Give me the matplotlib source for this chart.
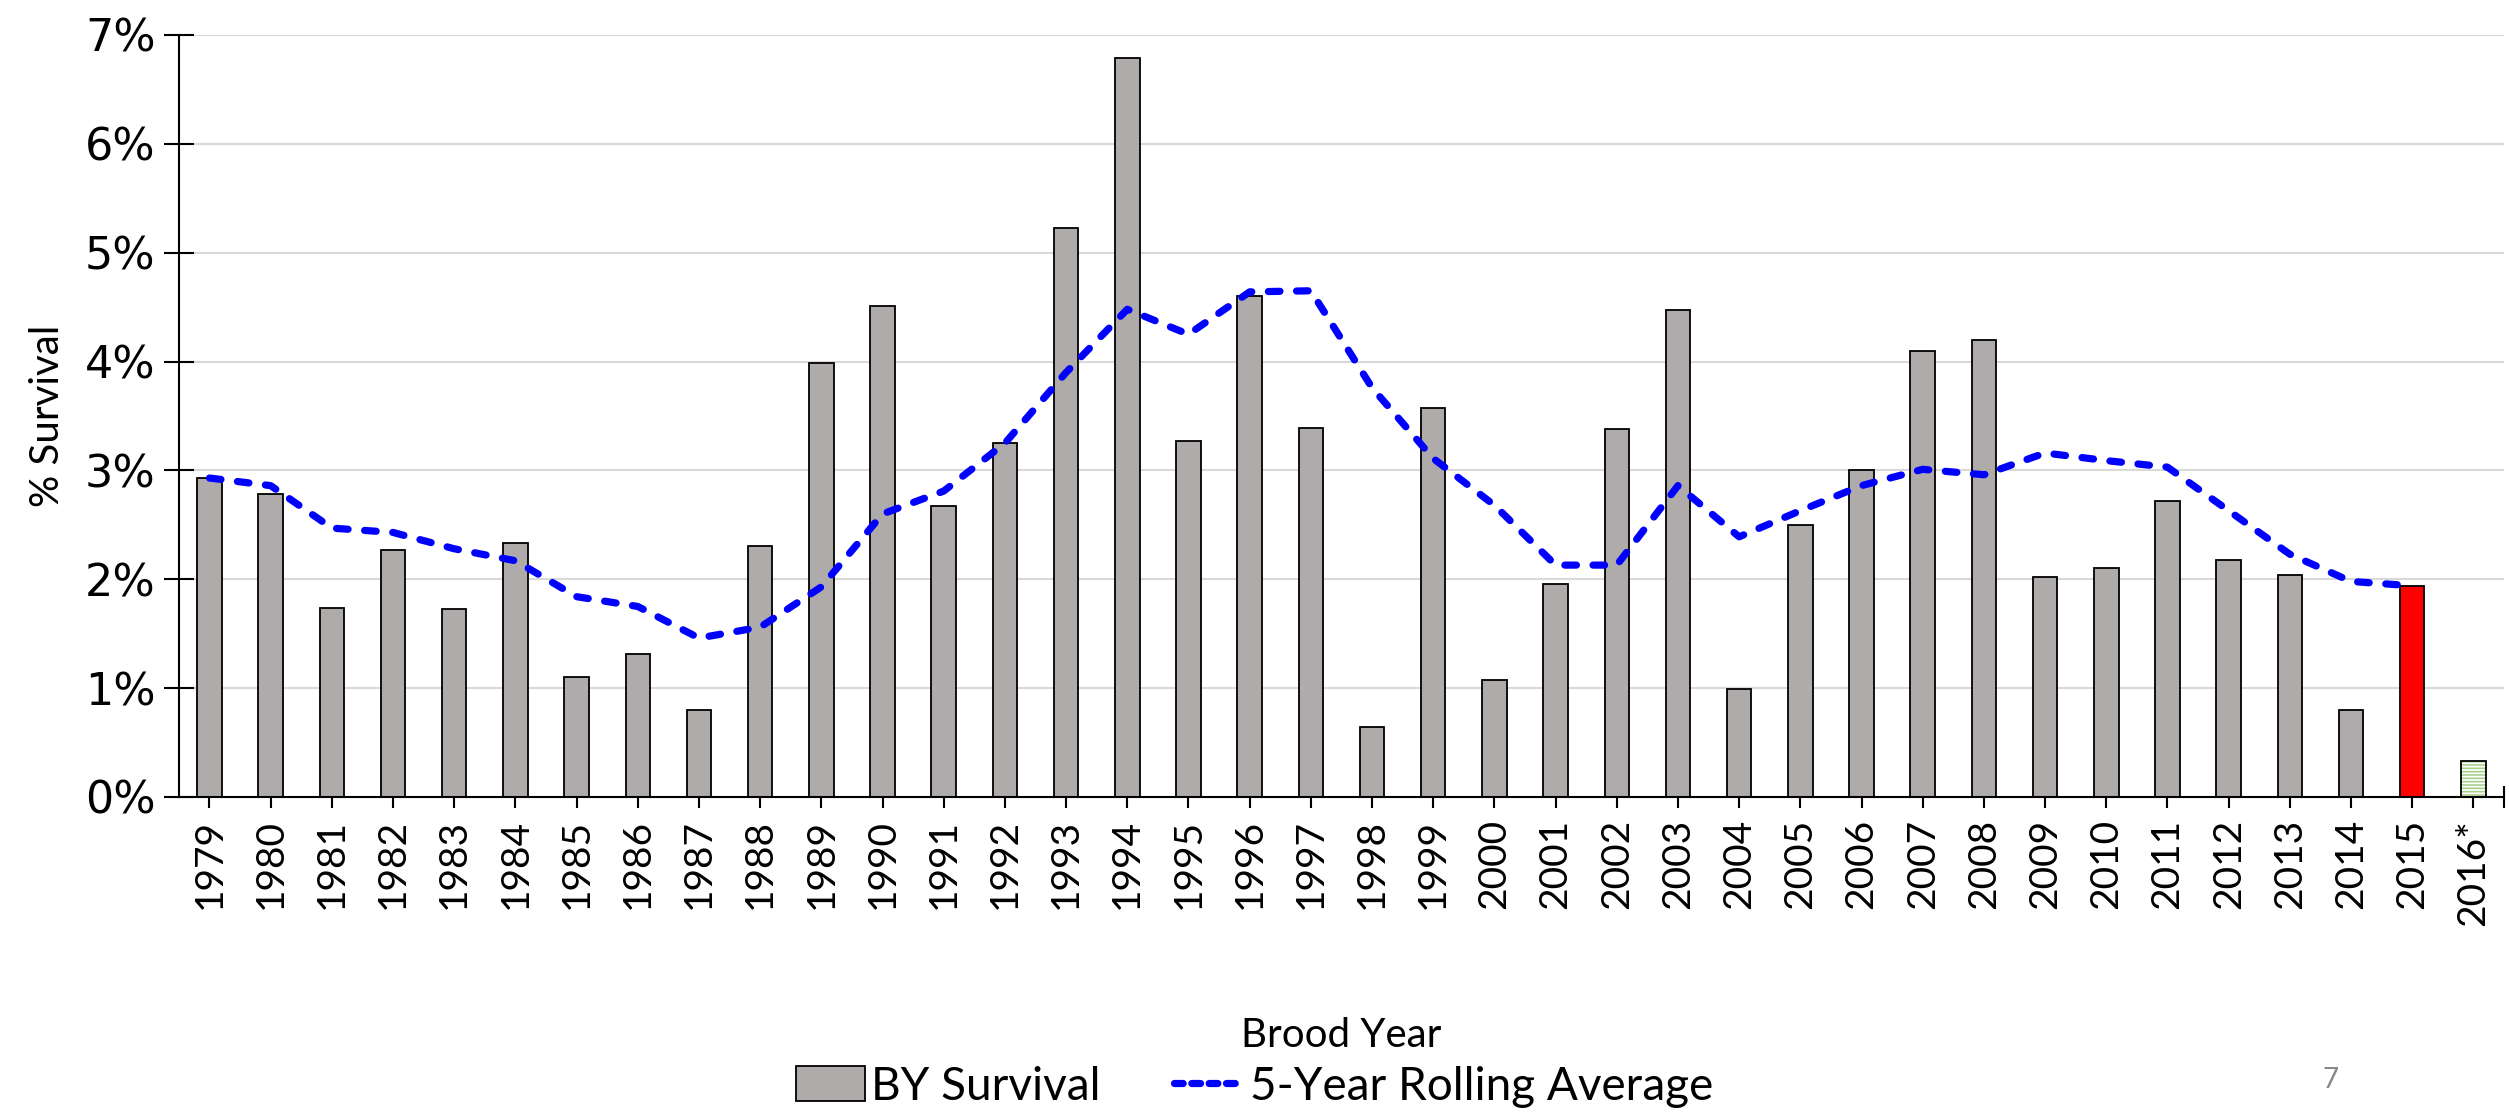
import matplotlib
matplotlib.use("Agg")
import matplotlib.pyplot as plt
from matplotlib.patches import Patch
from matplotlib.lines import Line2D
from matplotlib.ticker import FixedLocator, FuncFormatter

plt.rcParams['font.family'] = ['Lato', 'DejaVu Sans']
plt.rcParams['hatch.linewidth'] = 1.2

# brood years and survival (%)
years = ['1979', '1980', '1981', '1982', '1983', '1984', '1985', '1986', '1987', '1988',
         '1989', '1990', '1991', '1992', '1993', '1994', '1995', '1996', '1997', '1998',
         '1999', '2000', '2001', '2002', '2003', '2004', '2005', '2006', '2007', '2008',
         '2009', '2010', '2011', '2012', '2013', '2014', '2015', '2016*']
survival = [2.93, 2.78, 1.74, 2.27, 1.73, 2.33, 1.10, 1.31, 0.80, 2.31,
            3.99, 4.51, 2.67, 3.25, 5.23, 6.79, 3.27, 4.60, 3.39, 0.64,
            3.57, 1.07, 1.96, 3.38, 4.47, 0.99, 2.50, 3.00, 4.10, 4.20,
            2.02, 2.10, 2.72, 2.18, 2.04, 0.80, 1.94, 0.33]
# 5-year rolling average (through 2015)
rolling = [2.93, 2.86, 2.47, 2.43, 2.28, 2.17, 1.84, 1.75, 1.46, 1.56,
           1.93, 2.60, 2.81, 3.25, 3.90, 4.48, 4.25, 4.64, 4.65, 3.76,
           3.11, 2.68, 2.13, 2.13, 2.86, 2.39, 2.63, 2.86, 3.01, 2.96,
           3.16, 3.09, 3.03, 2.63, 2.23, 1.98, 1.94]

GRAY = '#AFABAB'
RED = '#FF0000'
GREEN = '#A9D18E'

fig = plt.figure(figsize=(25.09, 11.17), dpi=100)
ax = fig.add_axes([0.0713, 0.2865, 0.9267, 0.6822])

x = list(range(len(years)))
n_gray = len(years) - 2
colors = [GRAY] * n_gray + [RED]

# grid lines
for v in range(1, 8):
    ax.axhline(v, color='#D9D9D9', lw=1.5, zorder=0)

ax.bar(x[:n_gray + 1], survival[:n_gray + 1], width=0.4, color=colors,
       edgecolor='black', linewidth=1.3, zorder=2)
# preliminary 2016 value: green horizontal hatch
ax.bar(x[-1], survival[-1], width=0.4, color='white', edgecolor=GREEN,
       hatch='-----', linewidth=0, zorder=2)
ax.bar(x[-1], survival[-1], width=0.4, fill=False, edgecolor='black',
       linewidth=1.3, zorder=3)

ax.plot(x[:len(rolling)], rolling, color='#0000FF', lw=5.2, ls=(0, (1.6, 2.3)),
        dash_capstyle='round', solid_capstyle='round', zorder=4)

ax.set_xlim(-0.5, len(years) - 0.5)
ax.set_ylim(0, 7)
ax.set_xticks(x)
ax.set_xticklabels(years, rotation=90, fontsize=28)
ax.xaxis.set_minor_locator(FixedLocator([len(years) - 0.5]))
ax.set_yticks(range(0, 8))
ax.yaxis.set_major_formatter(FuncFormatter(lambda v, p: f'{v:.0f}%'))
for lab in ax.get_yticklabels():
    lab.set_fontfamily('DejaVu Sans')
    lab.set_fontsize(32)

ax.tick_params(axis='x', which='both', direction='inout', length=16, width=1.5, pad=8)
ax.tick_params(axis='y', direction='inout', length=21.6, width=1.5, pad=6)

for s in ['top', 'right']:
    ax.spines[s].set_visible(False)
ax.spines['left'].set_linewidth(1.5)
ax.spines['bottom'].set_linewidth(1.5)

fig.text(0.019, 0.628, '% Survival', rotation=90, ha='center', va='center', fontsize=29)
fig.text(0.5345, 0.073, 'Brood Year', ha='center', va='center', fontsize=29)

handles = [Patch(facecolor=GRAY, edgecolor='black', linewidth=1.3),
           Line2D([0], [0], color='#0000FF', lw=5.2, ls=(0, (1.2, 1.2)),
                  dash_capstyle='round')]
fig.legend(handles, ['BY Survival', '5-Year Rolling Average'], loc='center',
           bbox_to_anchor=(0.5, 0.027), ncol=2, frameon=False, fontsize=33,
           handlelength=1.5, handletextpad=0.15, columnspacing=1.6,
           handleheight=0.8)

fig.text(0.929, 0.033, '7', color='#888888', fontsize=20, ha='center', va='center')

fig.savefig('out.png', dpi=100)
